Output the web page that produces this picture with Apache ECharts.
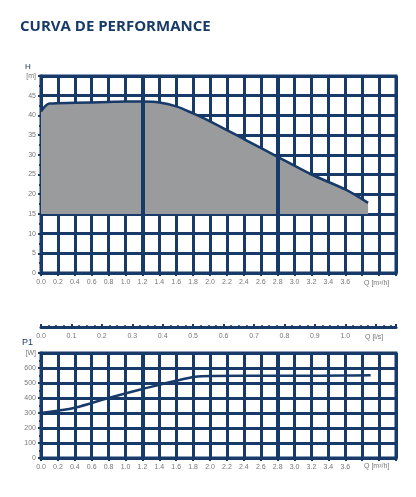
<!DOCTYPE html>
<html><head><meta charset="utf-8">
<script src="https://cdn.jsdelivr.net/npm/echarts@6/dist/echarts.min.js"></script>
<style>html,body{margin:0;padding:0;background:#fff}#c{width:416px;height:497px}</style>
</head><body><div id="c"></div>
<script>
// curva H(Q)
var qH = [0, 0.1, 0.4, 0.8, 1.0, 1.2, 1.4, 1.6, 1.8, 2.0, 2.4, 2.8, 3.2, 3.6, 3.87];
var hVal = [41, 43, 43.2, 43.4, 43.5, 43.5, 43.3, 42.3, 40.5, 38.5, 34, 29.5, 25, 21.2, 17.8];
// potenza P1(Q)
var qP = [0, 0.2, 0.4, 0.8, 1.2, 1.6, 1.9, 2.4, 3.0, 3.6, 3.9];
var pVal = [300, 315, 335, 400, 460, 515, 545, 548, 548, 550, 552];
var navy = '#173a68';
var chart = echarts.init(document.getElementById('c'));

function qAxis(grid) {
    return {
        type: 'value', gridIndex: grid, min: 0, max: 4.2, interval: 0.2,
        axisLine: { show: true, lineStyle: { color: navy, width: 3 } },
        axisTick: { show: true, length: 3, lineStyle: { color: navy, width: 2 } },
        minorTick: { show: true, splitNumber: 2, length: 2, lineStyle: { color: navy, width: 2 } },
        splitLine: { show: true, lineStyle: { color: navy, width: 3 } },
        axisLabel: { color: '#777', fontSize: 7, margin: 6,
            formatter: function (v) { return v > 3.65 ? '' : v.toFixed(1); } }
    };
}
function vAxis(grid, max, step, unit) {
    return {
        type: 'value', gridIndex: grid, min: 0, max: max, interval: step,
        axisLine: { show: true, lineStyle: { color: navy, width: 3 } },
        axisTick: { show: true, length: 3, lineStyle: { color: navy, width: 2 } },
        minorTick: { show: true, splitNumber: 2, length: 2, lineStyle: { color: navy, width: 2 } },
        splitLine: { show: true, lineStyle: { color: navy, width: 3 } },
        axisLabel: { color: '#777', fontSize: 7, margin: 5,
            formatter: function (v) { return v >= max ? unit : v; } }
    };
}
var thick = { symbol: 'none', silent: true, label: { show: false },
    lineStyle: { color: navy, width: 4, type: 'solid' }, data: [{ xAxis: 1.2 }, { xAxis: 2.8 }] };

chart.setOption({
    animation: false,
    title: { text: 'CURVA DE PERFORMANCE', left: 15, top: 14,
        textStyle: { color: navy, fontSize: 15, fontWeight: 'bold', fontFamily: 'Open Sans' } },
    grid: [
        { left: 41, right: 20, top: 76, height: 197, show: true, borderColor: navy, borderWidth: 3 },
        { left: 41, right: 20, top: 353, height: 105, show: true, borderColor: navy, borderWidth: 3 },
        { left: 41, right: 20, top: 317, height: 10 }
    ],
    xAxis: [
        qAxis(0), qAxis(1),
        { type: 'value', gridIndex: 2, min: 0, max: 4.2 / 3.6, interval: 0.1,
          axisLine: { show: true, lineStyle: { color: navy, width: 3 } },
          axisTick: { show: true, length: 3, inside: true, lineStyle: { color: navy, width: 2 } },
          minorTick: { show: true, splitNumber: 4, length: 2, lineStyle: { color: navy, width: 1.5 } },
          splitLine: { show: false },
          axisLabel: { color: '#777', fontSize: 7, margin: 6,
              formatter: function (v) { return v > 1.05 ? '' : v.toFixed(1); } } }
    ],
    yAxis: [vAxis(0, 50, 5, '[m]'), vAxis(1, 700, 100, '[W]'),
        { type: 'value', gridIndex: 2, show: false }],
    graphic: [
        { type: 'text', left: 25, top: 63, style: { text: 'H', fill: navy, fontSize: 8 } },
        { type: 'text', left: 22, top: 338, style: { text: 'P1', fill: navy, fontSize: 9 } },
        { type: 'text', left: 364, top: 280, style: { text: 'Q [m³/h]', fill: '#777', fontSize: 7 } },
        { type: 'text', left: 364, top: 463, style: { text: 'Q [m³/h]', fill: '#777', fontSize: 7 } },
        { type: 'text', left: 365, top: 334, style: { text: 'Q [l/s]', fill: '#777', fontSize: 7 } }
    ],
    series: [
        { type: 'line', xAxisIndex: 0, yAxisIndex: 0, symbol: 'none', smooth: 0.3,
          data: qH.map(function (q, i) { return [q, hVal[i]]; }),
          lineStyle: { color: navy, width: 2.5 },
          areaStyle: { color: '#999b9d', opacity: 1, origin: 15 },
          markLine: thick, z: 3 },
        { type: 'line', xAxisIndex: 1, yAxisIndex: 1, symbol: 'none', smooth: 0.4,
          data: qP.map(function (q, i) { return [q, pVal[i]]; }),
          lineStyle: { color: navy, width: 2.5 }, markLine: thick }
    ]
});
</script></body></html>
